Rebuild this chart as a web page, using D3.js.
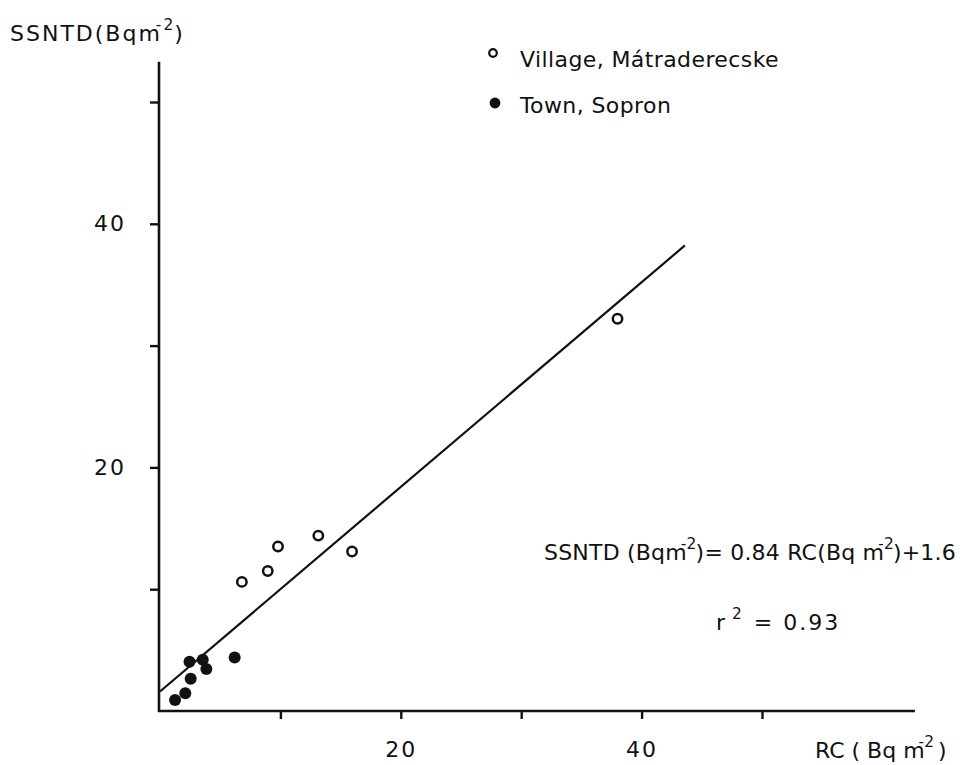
<!DOCTYPE html>
<html>
<head>
<meta charset="utf-8">
<script src="https://cdn.jsdelivr.net/npm/d3@7"></script>
<style>
  html, body { margin: 0; padding: 0; background: #fff; }
  svg { display: block; font-family: "DejaVu Sans", sans-serif; }
  text { fill: #111; }
</style>
</head>
<body>
<div id="chart-container"></div>
<script>
// values (RC and SSNTD, Bq m-2)
const villageRC    = [6.8, 8.95, 9.8, 13.15, 15.95, 38.0];
const villageSSNTD = [10.6, 11.5, 13.5, 14.4, 13.1, 32.2];
const townRC       = [1.25, 2.1, 2.45, 2.55, 3.55, 3.85, 6.2];
const townSSNTD    = [0.9, 1.45, 4.05, 2.65, 4.2, 3.45, 4.4];
const fitSlope = 0.84;
const fitIntercept = 1.6;
const fitRC = [0, 43.6];
const xTicks = [10, 20, 30, 40, 50];
const yTicks = [10, 20, 30, 40, 50];
const tickLabels = [20, 40];
const seriesNames = ["Village, M\u00e1traderecske", "Town, Sopron"];

let W = 976, H = 765;
let svg = d3.select("#chart-container").append("svg").attr("width", W).attr("height", H);

let x = d3.scaleLinear().domain([0, 50]).range([160, 762]);
let y = d3.scaleLinear().domain([0, 50]).range([711, 102]);

// axes
let yAxis = svg.append("g").attr("transform", `translate(${x(0) - 1},0)`)
  .call(d3.axisLeft(y).tickValues(yTicks).tickSize(9).tickPadding(24)
    .tickFormat(d => tickLabels.includes(d) ? d : ""));
let xAxis = svg.append("g").attr("transform", `translate(0,${y(0)})`)
  .call(d3.axisBottom(x).tickValues(xTicks).tickSize(8)
    .tickFormat(d => tickLabels.includes(d) ? d : ""));
[xAxis, yAxis].forEach(a => {
  a.select(".domain").remove();
  a.selectAll("line").attr("stroke", "#111").attr("stroke-width", 2.4);
  a.selectAll("text").attr("font-size", 22).attr("font-family", "DejaVu Sans")
    .attr("letter-spacing", 2).attr("fill", "#111");
});
xAxis.selectAll("text").attr("dy", null).attr("y", 46);

svg.append("line").attr("x1", x(0) - 1).attr("x2", x(0) - 1).attr("y1", y(0) + 1).attr("y2", y(53.3))
  .attr("stroke", "#111").attr("stroke-width", 2.6);
svg.append("line").attr("x1", x(0) - 2).attr("x2", x(62.7)).attr("y1", y(0)).attr("y2", y(0))
  .attr("stroke", "#111").attr("stroke-width", 2.6);

// regression line
let line = d3.line().x(d => x(d)).y(d => y(fitSlope * d + fitIntercept));
svg.append("path").attr("d", line(fitRC)).attr("fill", "none")
  .attr("stroke", "#111").attr("stroke-width", 2.2);

// points
svg.append("g").selectAll("circle").data(d3.zip(villageRC, villageSSNTD)).enter()
  .append("circle").attr("cx", d => x(d[0])).attr("cy", d => y(d[1])).attr("r", 4.7)
  .attr("fill", "#fff").attr("stroke", "#111").attr("stroke-width", 2.5);
svg.append("g").selectAll("circle").data(d3.zip(townRC, townSSNTD)).enter()
  .append("circle").attr("cx", d => x(d[0])).attr("cy", d => y(d[1])).attr("r", 6)
  .attr("fill", "#111");

// text with superscripts; the part after a superscript drops back down
let supText = (px, py, parts, size, spacing) => {
  let t = svg.append("text").attr("x", px).attr("y", py)
    .attr("font-size", size).attr("letter-spacing", spacing);
  let up = false;
  parts.forEach(p => {
    let s = t.append("tspan").attr("dx", p.dx || 0);
    if (p.sup) {
      s.attr("dy", -11).attr("font-size", size * 0.7).text(p.sup);
      up = true;
    } else {
      if (up) s.attr("dy", 11);
      up = false;
      s.text(p.t);
    }
  });
  return t;
};

supText(10, 41, [{t: "SSNTD(Bqm"}, {sup: "-2", dx: -6}, {t: ")", dx: -1}], 22, 2);
supText(815, 758, [{t: "RC ( Bq m"}, {sup: "-2", dx: -6}, {t: " )", dx: -3}], 22, 0);
supText(544, 560, [{t: "SSNTD (Bqm"}, {sup: "-2", dx: -6}, {t: ")= 0.84  RC(Bq m", dx: -1}, {sup: "-2", dx: -6}, {t: ")+1.6", dx: -1}], 22, 0.2);
supText(716, 630, [{t: "r"}, {sup: "2", dx: 5}, {t: " =", dx: 1}, {t: "  0.93", dx: 0}], 22, 2);

// legend
let legend = svg.append("g");
legend.append("circle").attr("cx", 493).attr("cy", 53).attr("r", 3.8)
  .attr("fill", "#fff").attr("stroke", "#111").attr("stroke-width", 2.2);
legend.append("circle").attr("cx", 495).attr("cy", 103).attr("r", 5.4).attr("fill", "#111");
legend.selectAll("text.lg").data(seriesNames).enter().append("text").attr("class", "lg")
  .attr("x", 520).attr("y", (d, i) => 67 + i * 46)
  .attr("font-size", 22).attr("letter-spacing", 0.4).text(d => d);
</script>
</body>
</html>
